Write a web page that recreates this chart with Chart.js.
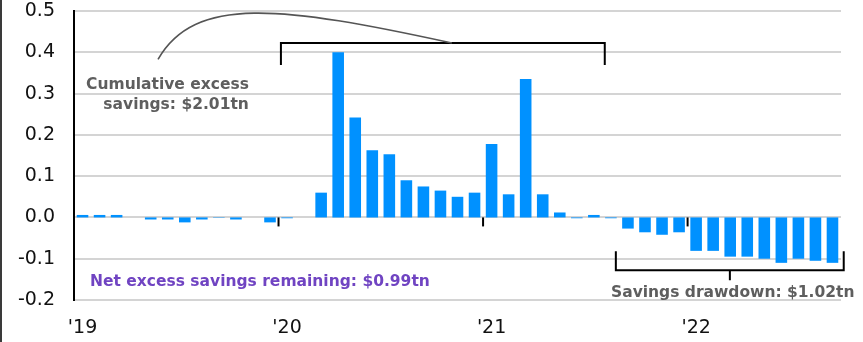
<!DOCTYPE html>
<html>
<head>
<meta charset="utf-8">
<script src="https://cdn.jsdelivr.net/npm/chart.js@4"></script>
<style>
  html, body { margin: 0; padding: 0; background: #fff; }
  #wrap { width: 863px; height: 342px; }
</style>
</head>
<body>
<div id="wrap"><canvas id="savingsChart" width="863" height="342"></canvas></div>
<script>
// monthly excess savings, $tn, Jan 2019 - Sep 2022
const months = [];
for (let yr = 2019; yr <= 2022; yr++) {
    for (let m = 1; m <= 12; m++) {
        if (yr === 2022 && m > 9) break;
        months.push(yr + '-' + String(m).padStart(2, '0'));
    }
}
const excessSavings = [
    0.006, 0.006, 0.006, 0, -0.005, -0.005, -0.012, -0.005, -0.001, -0.005, 0, -0.012,
    -0.002, 0, 0.060, 0.400, 0.242, 0.163, 0.153, 0.090, 0.075, 0.065, 0.050, 0.060,
    0.178, 0.056, 0.335, 0.056, 0.012, -0.002, 0.006, -0.002, -0.027, -0.036, -0.042, -0.036,
    -0.081, -0.081, -0.095, -0.095, -0.100, -0.110, -0.100, -0.105, -0.110
];
const yearTicks = ["'19", "'20", "'21", "'22"];

const FONT = '"DejaVu Sans", sans-serif';

// brackets, curve and notes
const notesPlugin = {
    id: 'notes',
    afterDraw(chart) {
        const ctx = chart.ctx;
        const x = chart.scales.x, y = chart.scales.y;
        const px = v => x.getPixelForValue(v);
        const py = v => y.getPixelForValue(v);
        ctx.save();

        // frame edge on the left
        ctx.fillStyle = '#3a3a3a';
        ctx.fillRect(0, 0, 2, chart.height);

        // year ticks on the zero line
        ctx.strokeStyle = '#000';
        ctx.lineWidth = 2;
        [11.5, 23.5, 35.5].forEach(v => {
            ctx.beginPath();
            ctx.moveTo(px(v), py(0));
            ctx.lineTo(px(v), py(0) + 9);
            ctx.stroke();
        });

        // top bracket
        ctx.beginPath();
        ctx.moveTo(px(11.64), py(0.369));
        ctx.lineTo(px(11.64), py(0.4224));
        ctx.lineTo(px(30.64), py(0.4224));
        ctx.lineTo(px(30.64), py(0.369));
        ctx.stroke();

        // bottom bracket
        ctx.beginPath();
        ctx.moveTo(px(31.29), py(-0.082));
        ctx.lineTo(px(31.29), py(-0.128));
        ctx.lineTo(px(44.66), py(-0.128));
        ctx.lineTo(px(44.66), py(-0.082));
        ctx.moveTo(px(37.98), py(-0.128));
        ctx.lineTo(px(37.98), py(-0.152));
        ctx.stroke();

        // curve to the top bracket
        ctx.strokeStyle = '#555';
        ctx.lineWidth = 1.6;
        ctx.beginPath();
        ctx.moveTo(px(4.43), py(0.383));
        ctx.bezierCurveTo(px(6.6), py(0.538), px(11.58), py(0.513), px(21.67), py(0.4224));
        ctx.stroke();

        // texts
        ctx.font = 'bold 15.5px ' + FONT;
        ctx.textBaseline = 'alphabetic';
        ctx.fillStyle = '#5e5e5e';
        ctx.textAlign = 'right';
        ctx.fillText('Cumulative excess', px(9.76), py(0.311));
        ctx.fillText('savings: $2.01tn', px(9.76), py(0.2615));
        ctx.textAlign = 'center';
        ctx.fillText('Savings drawdown: $1.02tn', px(38.15), py(-0.193));
        ctx.textAlign = 'left';
        ctx.fillStyle = '#7044c2';
        ctx.fillText('Net excess savings remaining: $0.99tn', px(0.44), py(-0.166));
        ctx.restore();
    }
};

const ctx = document.getElementById('savingsChart').getContext('2d');
new Chart(ctx, {
    type: 'bar',
    data: {
        labels: months,
        datasets: [{
            data: excessSavings,
            backgroundColor: '#0091ff',
            barPercentage: 0.68,
            categoryPercentage: 1.0
        }]
    },
    options: {
        responsive: false,
        animation: false,
        layout: { padding: { top: 11, right: 22, left: 0, bottom: 0 } },
        plugins: {
            legend: { display: false },
            tooltip: { enabled: false }
        },
        scales: {
            x: {
                grid: { display: false, drawTicks: false },
                border: { display: false },
                ticks: {
                    autoSkip: false,
                    maxRotation: 0,
                    padding: 17,
                    color: '#111',
                    font: { family: FONT, size: 19 },
                    callback: function (val, i) {
                        return i % 12 === 0 ? yearTicks[i / 12] : '';
                    }
                },
                afterFit: s => {
                    s.height = 42;
                    s.paddingLeft = 0;
                    s.paddingRight = 0;
                }
            },
            y: {
                min: -0.2,
                max: 0.5,
                grid: {
                    drawTicks: false,
                    lineWidth: 2,
                    color: c => c.tick.value === 0 ? '#000' : '#d4d4d4'
                },
                border: { color: '#000', width: 2 },
                ticks: {
                    stepSize: 0.1,
                    padding: 19,
                    color: '#111',
                    font: { family: FONT, size: 19 },
                    callback: v => (Math.abs(v) < 1e-9 ? 0 : v).toFixed(1)
                },
                afterFit: s => {
                    s.width = 74;
                    s.paddingTop = 0;
                    s.paddingBottom = 0;
                }
            }
        }
    },
    plugins: [notesPlugin]
});
</script>
</body>
</html>
